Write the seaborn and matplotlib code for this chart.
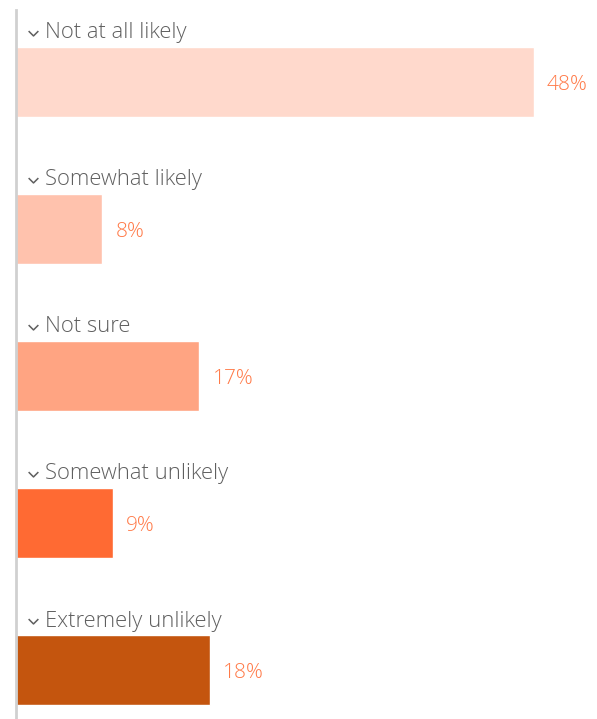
import matplotlib
matplotlib.use("Agg")
import matplotlib.pyplot as plt
import matplotlib.transforms as mtransforms
from matplotlib.path import Path
import seaborn as sns
import pandas as pd

categories = ["Not at all likely", "Somewhat likely", "Not sure",
              "Somewhat unlikely", "Extremely unlikely"]
values = [48, 8, 17, 9, 18]
value_labels = ["48%", "8%", "17%", "9%", "18%"]
bar_colors = ["#FFD9CC", "#FFC2AD", "#FFA482", "#FF6A33", "#C4550E"]

df = pd.DataFrame({"category": categories, "value": values})

sns.set_theme(style="white")
plt.rcParams["font.family"] = ["Open Sans", "DejaVu Sans"]

W, H, DPI = 597, 719, 100
fig = plt.figure(figsize=(W / DPI, H / DPI), dpi=DPI)
ax = fig.add_axes([16 / W, 0, 1 - 16 / W, 1 - 10 / H])

sns.barplot(data=df, y="category", x="value", hue="category",
            palette=bar_colors, orient="h", width=0.476,
            legend=False, ax=ax, saturation=1)

px_per_unit = 518 / 48
ax.set_xlim(0, (W - 16) / px_per_unit)
row_px = 147
ax.set_ylim((H - 82) / row_px, -(82 - 10) / row_px)

for s in ["top", "right", "bottom"]:
    ax.spines[s].set_visible(False)
ax.spines["left"].set_color("#d0d0d0")
ax.spines["left"].set_linewidth(2)
ax.set_xticks([])
ax.set_yticks([])
ax.set_xlabel("")
ax.set_ylabel("")

chevron = Path([(-1, 0.5), (0, -0.5), (1, 0.5)],
               [Path.MOVETO, Path.LINETO, Path.LINETO])

trans_head = mtransforms.blended_transform_factory(ax.transAxes, ax.transData)
head_off = mtransforms.ScaledTranslation(0, 49 / DPI, fig.dpi_scale_trans)

for i, (cat, val, lab) in enumerate(zip(categories, values, value_labels)):
    # category heading above each bar
    ax.text(29 / (W - 16), i, cat, transform=trans_head + head_off,
            ha="left", va="center", fontsize=15.8, color="#5f5f5f",
            fontweight="light")
    ax.plot([17 / (W - 16)], [i], transform=trans_head + head_off,
            marker=chevron, markersize=7, color="#5f5f5f",
            markerfacecolor="none", markeredgewidth=1.1)
    # value label right of the bar
    ax.annotate(lab, xy=(val, i), xytext=(13, -3), textcoords="offset pixels",
                ha="left", va="center", fontsize=15, color="#FF7A48",
                fontweight="light")

fig.savefig("out.png", dpi=DPI)
